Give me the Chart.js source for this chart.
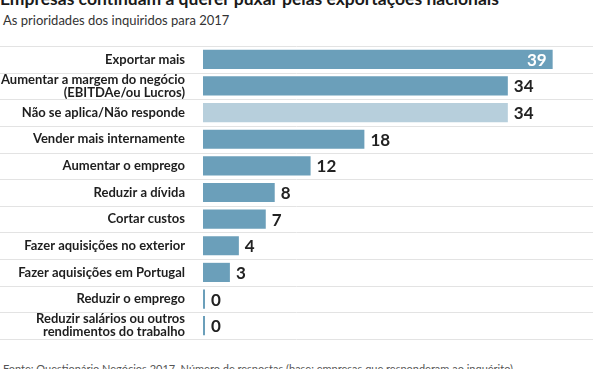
<!DOCTYPE html>
<html>
<head>
<meta charset="utf-8">
<script src="https://cdn.jsdelivr.net/npm/chart.js@4/dist/chart.umd.min.js"></script>
<style>
  html,body{margin:0;padding:0;background:#fff;overflow:hidden;}
  body{width:593px;height:369px;position:relative;font-family:Lato,"Open Sans",sans-serif;}
  #title{position:absolute;left:0;top:-12px;font-size:17.5px;font-weight:bold;color:#1a1a1a;white-space:nowrap;}
  #sub{position:absolute;left:3px;top:12px;font-size:13px;color:#333;white-space:nowrap;}
  #wrap{position:absolute;left:0;top:36px;width:593px;height:310px;}
  #foot{position:absolute;left:3px;top:362px;font-size:11px;color:#555;white-space:nowrap;}
</style>
</head>
<body>
<div id="title">Empresas continuam a querer puxar pelas exportações nacionais</div>
<div id="sub">As prioridades dos inquiridos para 2017</div>
<div id="wrap"><canvas id="chart"></canvas></div>
<div id="foot">Fonte: Questionário Negócios 2017. Número de respostas (base: empresas que responderam ao inquérito)</div>
<script>
// ---------- DATA ----------
const categories = [
  'Exportar mais',
  ['Aumentar a margem do negócio','(EBITDAe/ou Lucros)'],
  'Não se aplica/Não responde',
  'Vender mais internamente',
  'Aumentar o emprego',
  'Reduzir a dívida',
  'Cortar custos',
  'Fazer aquisições no exterior',
  'Fazer aquisições em Portugal',
  'Reduzir o emprego',
  ['Reduzir salários ou outros','rendimentos do trabalho']
];
const values = [39, 34, 34, 18, 12, 8, 7, 4, 3, 0, 0];

const mainColor = '#6b9fba';
const lightColor = '#b7cfdc';
const colors = categories.map(c => c === 'Não se aplica/Não responde' ? lightColor : mainColor);

// ---------- PLUGINS ----------
// full-width separators between rows
const separators = {
  id: 'separators',
  beforeDatasetsDraw(chart){
    const y = chart.scales.y, c = chart.ctx;
    c.save();
    c.strokeStyle = '#e3e3e3';
    c.lineWidth = 1;
    for(let i=0;i<=categories.length;i++){
      const py = Math.round(y.getPixelForValue(i-0.5)) + 0.5;
      c.beginPath(); c.moveTo(0,py); c.lineTo(chart.width,py); c.stroke();
    }
    c.restore();
  }
};

// value labels next to bars (inside for the longest one)
const valueLabels = {
  id: 'valueLabels',
  afterDatasetsDraw(chart){
    const c = chart.ctx, meta = chart.getDatasetMeta(0);
    const maxV = Math.max(...values);
    c.save();
    c.font = 'bold 17px Lato, "Open Sans", sans-serif';
    c.textBaseline = 'middle';
    meta.data.forEach((bar,i)=>{
      const v = values[i];
      if(v === maxV){
        c.fillStyle = '#fff'; c.textAlign = 'right';
        c.fillText(v, bar.x - 6, bar.y + 1);
      } else {
        c.fillStyle = '#222'; c.textAlign = 'left';
        c.fillText(v, bar.x + 6, bar.y + 1);
      }
    });
    c.restore();
  }
};

// ---------- CHART ----------
const ctx = document.getElementById('chart').getContext('2d');
new Chart(ctx, {
  type: 'bar',
  data: {
    labels: categories,
    datasets: [{
      data: values,
      backgroundColor: colors,
      borderWidth: 0,
      barPercentage: 0.72,
      categoryPercentage: 1,
      minBarLength: 2
    }]
  },
  options: {
    indexAxis: 'y',
    responsive: true,
    maintainAspectRatio: false,
    animation: false,
    layout: { padding: { top: 10, bottom: 7, left: 0, right: 0 } },
    plugins: { legend: { display: false }, tooltip: { enabled: false }, title: { display: false } },
    scales: {
      x: {
        min: 0, max: 43.5,
        display: false,
        grid: { display: false }
      },
      y: {
        grid: { display: false },
        border: { display: false },
        ticks: {
          color: '#1e1e1e',
          padding: 10,
          font: { family: 'Lato, "Open Sans", sans-serif', size: 13, weight: 'bold', lineHeight: 1.0 },
          autoSkip: false
        },
        afterFit(scale){ scale.width = 203; scale.paddingTop = 0; scale.paddingBottom = 0; }
      }
    }
  },
  plugins: [separators, valueLabels]
});
</script>
</body>
</html>
